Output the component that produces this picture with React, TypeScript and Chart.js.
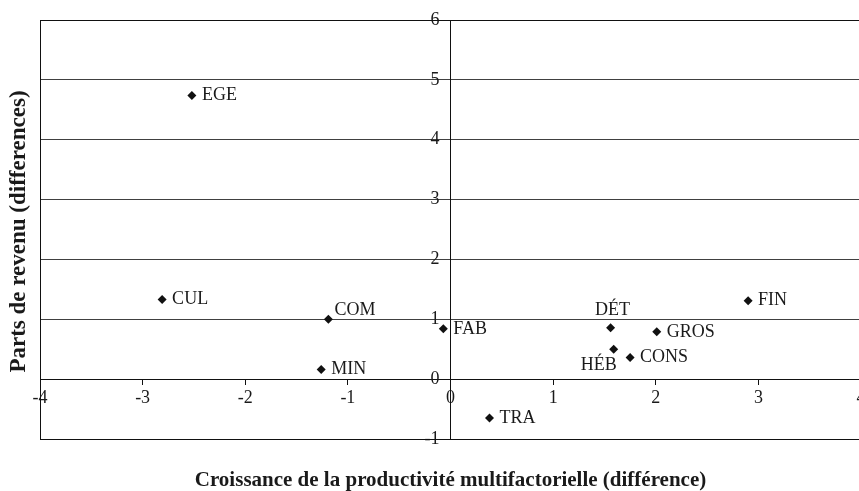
import React, { useEffect, useRef } from "react";
import { Chart, registerables } from "chart.js";

Chart.register(...registerables);

const sectorLabels = ["EGE", "CUL", "COM", "MIN", "FAB", "DÉT", "GROS", "HÉB", "CONS", "FIN", "TRA"];
const productivityDiff = [-2.52, -2.81, -1.19, -1.26, -0.07, 1.56, 2.01, 1.59, 1.75, 2.9, 0.38];
const incomeShareDiff = [4.74, 1.33, 1.0, 0.16, 0.84, 0.86, 0.79, 0.5, 0.36, 1.31, -0.65];
const labelPlacement = ["right", "right", "aboveRight", "right", "right", "above", "right", "belowLeft", "right", "right", "right"];

const xTitle = "Croissance de la productivité multifactorielle (différence)";
const yTitle = "Parts de revenu (differences)";

const FONT = '"Liberation Serif", "Times New Roman", serif';
const TEXT = "#1a1a1a";

const decorPlugin = {
  id: "decor",
  afterDatasetsDraw(chart: any) {
    const ctx = chart.ctx;
    const meta = chart.getDatasetMeta(0);
    ctx.save();
    ctx.font = `18px ${FONT}`;
    ctx.fillStyle = TEXT;
    meta.data.forEach((pt: any, i: number) => {
      const p = labelPlacement[i];
      const t = sectorLabels[i];
      let x = pt.x;
      let y = pt.y;
      ctx.textBaseline = "middle";
      if (p === "right") {
        ctx.textAlign = "left";
        x += 10;
      } else if (p === "aboveRight") {
        ctx.textAlign = "left";
        x += 6;
        y -= 9;
      } else if (p === "above") {
        ctx.textAlign = "center";
        x += 2;
        y -= 17;
      } else if (p === "belowLeft") {
        ctx.textAlign = "right";
        x += 3;
        y += 16;
      }
      ctx.fillText(t, x, y);
    });
    ctx.restore();
  },
  afterDraw(chart: any) {
    const { ctx, chartArea } = chart;
    ctx.save();
    ctx.strokeStyle = "#111";
    ctx.lineWidth = 1;
    ctx.strokeRect(
      Math.round(chartArea.left) + 0.5,
      Math.round(chartArea.top) + 0.5,
      Math.round(chartArea.right - chartArea.left),
      Math.round(chartArea.bottom - chartArea.top)
    );
    ctx.fillStyle = TEXT;
    ctx.textAlign = "center";
    ctx.textBaseline = "middle";
    ctx.font = `bold 21px ${FONT}`;
    ctx.fillText(xTitle, (chartArea.left + chartArea.right) / 2, 481);
    ctx.font = `bold 23px ${FONT}`;
    ctx.translate(19, (chartArea.top + chartArea.bottom) / 2 + 2);
    ctx.rotate(-Math.PI / 2);
    ctx.fillText(yTitle, 0, 0);
    ctx.restore();
  },
};

export default function App() {
  const ref = useRef<HTMLCanvasElement>(null);
  useEffect(() => {
    if (!ref.current) return;
    const chart = new Chart(ref.current, {
      type: "scatter",
      data: {
        datasets: [
          {
            label: "Secteurs",
            data: productivityDiff.map((x, i) => ({ x, y: incomeShareDiff[i] })),
            pointStyle: "rectRot",
            pointRadius: 4.5,
            backgroundColor: "#111",
            borderColor: "#111",
            borderWidth: 0,
          },
        ],
      },
      options: {
        responsive: false,
        animation: false,
        layout: { padding: { left: 40, top: 20, right: 19, bottom: 52 } },
        plugins: { legend: { display: false }, tooltip: { enabled: false } },
        scales: {
          x: {
            type: "linear",
            position: { y: 0 } as any,
            min: -4,
            max: 4,
            ticks: { stepSize: 1, color: TEXT, font: { family: FONT, size: 18 }, padding: 3, maxRotation: 0, autoSkip: false },
            grid: { display: true, drawOnChartArea: false, drawTicks: true, tickLength: 5, color: "#111" },
            border: { display: true, color: "#111", width: 1 },
          },
          y: {
            type: "linear",
            position: "center",
            min: -1,
            max: 6,
            ticks: { stepSize: 1, color: TEXT, font: { family: FONT, size: 18 }, padding: 6, autoSkip: false },
            grid: { display: true, drawOnChartArea: true, drawTicks: true, tickLength: 5, color: "#404040" },
            border: { display: true, color: "#111", width: 1 },
          },
        },
      },
      plugins: [decorPlugin],
    });
    return () => chart.destroy();
  }, []);
  return (
    <div style={{ position: "fixed", left: 0, top: 0, width: 859, height: 491, overflow: "hidden", background: "#fff" }}>
      <canvas ref={ref} width={880} height={491} style={{ display: "block", width: 880, height: 491 }} />
    </div>
  );
}
